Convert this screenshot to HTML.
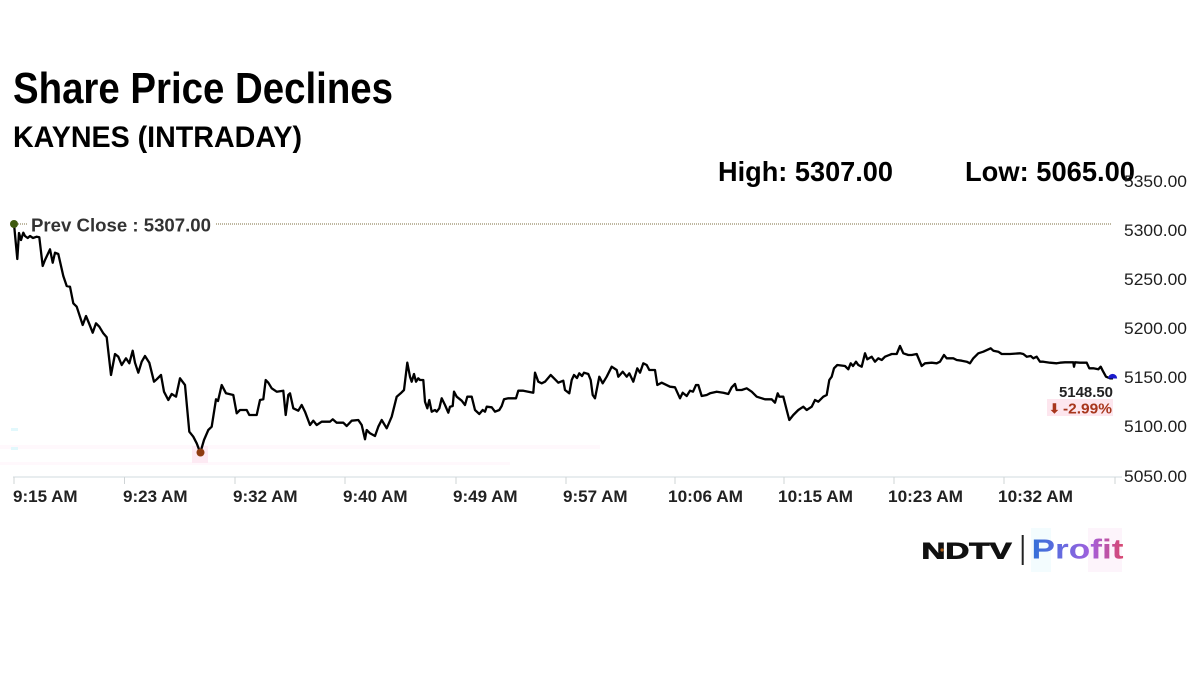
<!DOCTYPE html>
<html>
<head>
<meta charset="utf-8">
<style>
  html,body{margin:0;padding:0;background:#ffffff;}
  body{width:1200px;height:674px;overflow:hidden;}
  svg{display:block;}
  text{font-family:"Liberation Sans",Arial,sans-serif;}
</style>
</head>
<body>
<svg width="1200" height="674" viewBox="0 0 1200 674" xmlns="http://www.w3.org/2000/svg">
  <defs>
    <linearGradient id="pg" x1="0" y1="0" x2="1" y2="0">
      <stop offset="0" stop-color="#3270d8"/>
      <stop offset="0.35" stop-color="#6a6ae0"/>
      <stop offset="0.65" stop-color="#a35fdc"/>
      <stop offset="1" stop-color="#d9476e"/>
    </linearGradient>
  </defs>
  <rect x="0" y="0" width="1200" height="674" fill="#ffffff"/>

  <!-- faint artifacts -->
  <rect x="0" y="445" width="600" height="4" fill="#fff8fc"/>
  <rect x="0" y="462" width="510" height="3" fill="#fff8fc"/>
  <rect x="192" y="446" width="16" height="17" fill="#fdeaf3"/>
  <rect x="11" y="428" width="7" height="3" fill="#e2f8fc"/>
  <rect x="11" y="447" width="7" height="3" fill="#e2f8fc"/>

  <!-- Titles -->
  <text x="13" y="103" font-size="44" font-weight="bold" fill="#000" textLength="380" lengthAdjust="spacingAndGlyphs">Share Price Declines</text>
  <text x="13" y="147" font-size="30" font-weight="bold" fill="#000" textLength="289" lengthAdjust="spacingAndGlyphs">KAYNES (INTRADAY)</text>
  <text x="718" y="181" font-size="28" font-weight="bold" fill="#000" textLength="175" lengthAdjust="spacingAndGlyphs">High: 5307.00</text>
  <text x="965" y="181" font-size="28" font-weight="bold" fill="#000" textLength="170" lengthAdjust="spacingAndGlyphs">Low: 5065.00</text>

  <!-- Y axis labels -->
  <g font-size="16.5" fill="#1e1e1e">
    <text x="1124" y="187" textLength="63" lengthAdjust="spacingAndGlyphs">5350.00</text>
    <text x="1124" y="236" textLength="63" lengthAdjust="spacingAndGlyphs">5300.00</text>
    <text x="1124" y="285" textLength="63" lengthAdjust="spacingAndGlyphs">5250.00</text>
    <text x="1124" y="334" textLength="63" lengthAdjust="spacingAndGlyphs">5200.00</text>
    <text x="1124" y="383" textLength="63" lengthAdjust="spacingAndGlyphs">5150.00</text>
    <text x="1124" y="432" textLength="63" lengthAdjust="spacingAndGlyphs">5100.00</text>
    <text x="1124" y="482" textLength="63" lengthAdjust="spacingAndGlyphs">5050.00</text>
  </g>

  <!-- X axis -->
  <line x1="13" y1="477" x2="1122" y2="477" stroke="#dbe2e5" stroke-width="1.2"/>
  <g stroke="#cfd4d6" stroke-width="1">
    <line x1="14" y1="477" x2="14" y2="484"/>
    <line x1="124.5" y1="477" x2="124.5" y2="484"/>
    <line x1="235" y1="477" x2="235" y2="484"/>
    <line x1="345" y1="477" x2="345" y2="484"/>
    <line x1="456" y1="477" x2="456" y2="484"/>
    <line x1="566" y1="477" x2="566" y2="484"/>
    <line x1="675" y1="477" x2="675" y2="484"/>
    <line x1="784" y1="477" x2="784" y2="484"/>
    <line x1="894" y1="477" x2="894" y2="484"/>
    <line x1="1004" y1="477" x2="1004" y2="484"/>
    <line x1="1115" y1="477" x2="1115" y2="484"/>
  </g>
  <g font-size="17" font-weight="bold" fill="#222">
    <text x="13" y="502">9:15 AM</text>
    <text x="123" y="502">9:23 AM</text>
    <text x="233" y="502">9:32 AM</text>
    <text x="343" y="502">9:40 AM</text>
    <text x="453" y="502">9:49 AM</text>
    <text x="563" y="502">9:57 AM</text>
    <text x="668" y="502" textLength="75" lengthAdjust="spacingAndGlyphs">10:06 AM</text>
    <text x="778" y="502" textLength="75" lengthAdjust="spacingAndGlyphs">10:15 AM</text>
    <text x="888" y="502" textLength="75" lengthAdjust="spacingAndGlyphs">10:23 AM</text>
    <text x="998" y="502" textLength="75" lengthAdjust="spacingAndGlyphs">10:32 AM</text>
  </g>

  <!-- Prev close line -->
  <line x1="14" y1="224" x2="1111" y2="224" stroke="#a89f80" stroke-width="1.5" stroke-dasharray="1,1"/>
  <rect x="27" y="214" width="189" height="20" fill="#ffffff"/>
  <text x="31" y="231.7" font-size="18.5" font-weight="bold" fill="#333" textLength="180" lengthAdjust="spacingAndGlyphs">Prev Close : 5307.00</text>

  <!-- Price line -->
  <polyline fill="none" stroke="#000" stroke-width="2.3" stroke-linejoin="round" points="
14,224 17.3,259 19,233 21,240 23.3,232.7 25,236 27.7,238 30,236 33,238 36.7,236.7 39.3,237.3 42.7,266 45,260 50,249.3 52.7,262.7 55,252.7 58.3,254 63.3,276 66.7,286 70,286.7 73.3,303.3 76.7,306.7 82.7,325 86,316 89.3,324 92.7,332.7 96,323.3 99.3,326.7 103.3,333.3 106.7,337.3 111,375 115,354 118.3,356.7 121.7,365 126,358.3 129.3,363.3 132.7,350.7 135,362.7 138.3,372.7 141.7,361.7 145,356 149.3,362.7 154,381.7 156.7,379.3 161,375 164,391.7 168.3,400 171.7,394 176,396.7 180,378.3 185,385 189.3,431.7 193.3,436.7 196.7,443.3 200.3,452.7 204,440 208.3,430 211.7,426.7 216,399.3 218,401 221.7,385 226,393.3 233.3,395 236.7,413.3 240,410 246.7,410 249.3,415 256.7,415 260,400 263.3,399.3 265.7,380 268.3,382.7 271.7,388.3 276.7,391.7 283.3,390.7 285.7,415 288.3,395 290,393.3 293.3,408.3 298.3,410.7 301.7,405 305,411.7 310,425 313.3,420.7 316.7,425 321.7,421.7 330,421.7 332.7,419.3 336.7,422.7 343.3,422.7 346.7,426 351.7,420.7 358.3,420 361.7,425 365,439.3 366.7,430 370,433.3 375,436 378.3,426.7 381.7,420 386.7,428.3 391.7,416.7 396.7,396.7 400.7,393.3 404,390 407.3,362.7 410,376.7 411.7,381.7 414,374 416,381.7 418.3,378.3 420,380 423.3,380 425,401.7 427.3,408.3 429.3,400 431.7,411.7 435,410 436.7,411.7 439.3,408.3 441.7,398.3 445,405 448.3,412.7 450,406.7 452.7,406 454,391.7 456.7,396.7 461.7,400.7 465,405 467.3,396.7 471.7,396.7 475,410 479.3,414 482.7,410 485,411.7 486.7,406.7 491.7,407.3 495,411.7 499.3,410 501.7,406 504,399.3 508.3,398.3 516,398.3 518.3,390.7 523.3,390.7 533.3,392.7 535,372.7 538.3,381.7 541.7,383.3 545,381.7 550.7,375 555,379.3 558.3,382.7 563.3,380.7 565,390 569.3,393.3 571.7,380 574,375 577,378 579.3,373.3 582,376 584,372.7 588.3,374 590.7,380 592.7,395 595,398.3 599.3,376.7 602.7,383.3 606.7,376.7 611.7,366.7 616.7,370 618.3,376.7 622.7,371.7 626.7,376.7 629.3,373.3 633.3,381.7 637.3,368.3 640,372.7 643.3,363.3 646.7,365 649.3,370 655,370 657.3,385 661.7,382.7 670,386.7 675,387.3 680,398.3 682.7,392.7 686.7,396 690,390.7 693,391.7 696,385 698.3,385 701.7,396 706.7,395 710,393.3 716.7,391.7 723.3,392.7 728.3,394 731.7,387.3 735,384 736.7,390 741.7,390 746.7,388.3 751.7,391.7 756.7,396.7 765,399.3 771.7,399.3 775,402.7 777.7,393.3 779.3,396.7 783.3,396.7 786.7,410 789.3,420 793.3,415 798.3,410 803.3,406.7 806.7,410 811.7,406.7 815,400 818.3,401.7 823.3,396.7 826.7,395 829.3,380 831.7,376.7 834,368.3 837.3,365 845,366 848.3,369.3 850.7,363.3 853,366 856,361.7 858.3,365 861.7,366.7 865,353.3 867.3,359.3 871.7,356.7 875,361.7 878.3,358.3 881.7,360 885,356.7 891.7,354 896.7,354 900,346 903.3,353.3 908.3,355 911.7,355 916.7,354 921.7,366 925,363.3 931.7,362.7 936.7,363.3 940,361.7 944,355 946.7,358.3 953.3,358.3 956.7,360 961.7,360.7 966.7,361.7 970,363.3 973.3,358.3 978.3,353.3 983.3,351.7 990.7,348.3 993.3,350.7 998.3,351.7 1001.7,354 1010,354 1020,353.3 1023.3,354 1026.7,356.7 1030.7,356 1033.3,358.3 1036.7,356.7 1040,361.7 1043.3,361.7 1050,362.7 1056.7,363.3 1060,362.7 1065,362.3 1073.3,362.3 1074,366.7 1075,362.3 1080,362.7 1086.7,362.7 1089.3,368.3 1093.3,368.3 1098.3,369.3 1100.7,366.7 1102.7,370.7 1106,376.7 1110,378.3 1113,378.3"/>

  <!-- markers -->
  <circle cx="14" cy="224" r="4" fill="#3f5a10"/>
  <circle cx="200.5" cy="452.5" r="4" fill="#8e3c10"/>
  <path d="M1108 378.5 A4.6 4.6 0 0 1 1117.2 378.5 Z" fill="#1a1acc"/>

  <!-- last price labels -->
  <text x="1059" y="397" font-size="15" font-weight="bold" fill="#222" textLength="54" lengthAdjust="spacingAndGlyphs">5148.50</text>
  <rect x="1047" y="399" width="66" height="17" fill="#fde6ee"/>
  <text x="1049" y="413" font-size="13" font-weight="bold" fill="#a8361c">&#x2B07;</text>
  <text x="1063" y="413.5" font-size="15" font-weight="bold" fill="#a8361c" textLength="49" lengthAdjust="spacingAndGlyphs">-2.99%</text>

  <!-- Logo -->
  <rect x="1031" y="528" width="20" height="44" fill="#f3fcfe"/>
  <rect x="1088" y="528" width="34" height="44" fill="#fdf4fb"/>
  <text x="921.5" y="558.3" font-size="22.5" font-weight="bold" fill="#111" stroke="#111" stroke-width="0.9" textLength="90" lengthAdjust="spacingAndGlyphs">NDTV</text>
  <circle cx="942" cy="550" r="1.6" fill="#b5651d"/>
  <line x1="1022.7" y1="535" x2="1022.7" y2="565" stroke="#222" stroke-width="2"/>
  <text x="1031.5" y="558.3" font-size="28" font-weight="bold" fill="url(#pg)" textLength="92" lengthAdjust="spacingAndGlyphs">Profit</text>
</svg>
</body>
</html>
